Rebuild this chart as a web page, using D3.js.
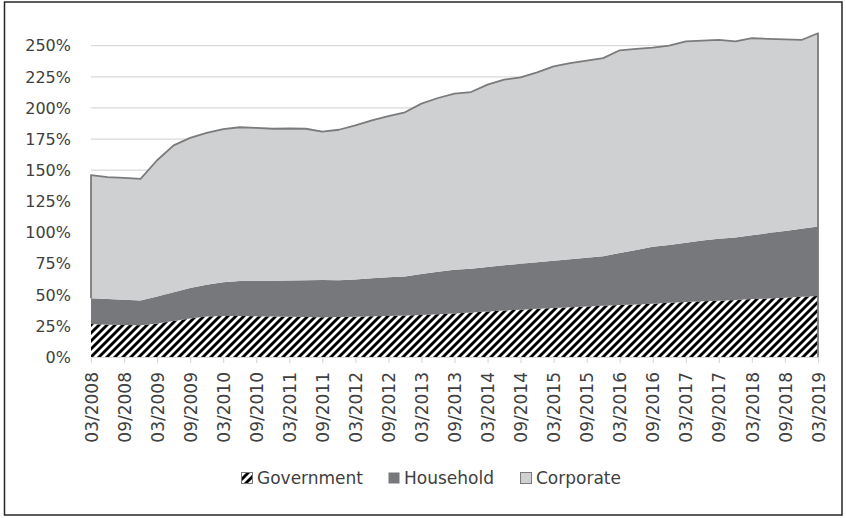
<!DOCTYPE html>
<html>
<head>
<meta charset="utf-8">
<script src="https://cdn.jsdelivr.net/npm/d3@7"></script>
<style>
  body { margin: 0; background: #fff; }
  text { font-family: "DejaVu Sans", sans-serif; fill: #404040; }
</style>
</head>
<body>
<script>

// quarterly debt as % of GDP
var categories = [
  "03/2008", "06/2008", "09/2008", "12/2008",
  "03/2009", "06/2009", "09/2009", "12/2009",
  "03/2010", "06/2010", "09/2010", "12/2010",
  "03/2011", "06/2011", "09/2011", "12/2011",
  "03/2012", "06/2012", "09/2012", "12/2012",
  "03/2013", "06/2013", "09/2013", "12/2013",
  "03/2014", "06/2014", "09/2014", "12/2014",
  "03/2015", "06/2015", "09/2015", "12/2015",
  "03/2016", "06/2016", "09/2016", "12/2016",
  "03/2017", "06/2017", "09/2017", "12/2017",
  "03/2018", "06/2018", "09/2018", "12/2018",
  "03/2019"
];

var government = [26.5, 26.0, 25.7, 25.5, 27.0, 29.0, 31.0, 32.5, 33.0, 33.0,
                  32.7, 32.5, 32.3, 32.1, 32.0, 32.2, 32.4, 32.7, 33.0, 33.4,
                  33.8, 34.4, 35.0, 35.8, 36.5, 37.3, 38.0, 38.8, 39.4, 40.0,
                  40.6, 41.1, 41.7, 42.2, 42.8, 43.5, 44.2, 44.7, 45.2, 45.8,
                  46.5, 47.0, 47.6, 48.3, 49.0];

var household = [20.7, 20.5, 20.3, 19.8, 21.5, 23.0, 24.5, 25.5, 27.0, 28.0,
                 28.5, 28.8, 29.2, 29.6, 29.8, 29.5, 29.9, 30.6, 31.0, 31.2,
                 32.9, 34.1, 35.0, 35.0, 35.8, 36.4, 36.8, 37.2, 37.9, 38.6,
                 39.1, 39.9, 41.8, 43.8, 45.7, 46.5, 47.6, 48.8, 49.8, 50.2,
                 51.3, 52.5, 53.6, 54.7, 55.8];

var corporate = [98.8, 98.0, 97.8, 97.7, 109.5, 118.0, 120.5, 122.0, 123.0, 123.5,
                 122.8, 122.0, 122.0, 121.6, 119.2, 120.8, 123.7, 126.7, 129.5, 131.9,
                 136.8, 139.5, 141.5, 142.0, 146.4, 149.0, 149.8, 152.6, 156.1, 157.4,
                 158.3, 159.0, 162.8, 161.5, 160.0, 160.0, 161.7, 160.5, 159.6, 157.5,
                 158.2, 156.0, 153.8, 151.6, 155.2];

var seriesNames = ["Government", "Household", "Corporate"];

var xTickLabels = ["03/2008", "09/2008", "03/2009", "09/2009", "03/2010", "09/2010",
                   "03/2011", "09/2011", "03/2012", "09/2012", "03/2013", "09/2013",
                   "03/2014", "09/2014", "03/2015", "09/2015", "03/2016", "09/2016",
                   "03/2017", "09/2017", "03/2018", "09/2018", "03/2019"];

var yTicks = [0, 25, 50, 75, 100, 125, 150, 175, 200, 225, 250];


var width = 846,
    height = 518;

var rows = categories.map(function(c, i) {
  return { cat: c, Government: government[i], Household: household[i], Corporate: corporate[i] };
});

var stacked = d3.stack().keys(seriesNames)(rows);

var xScale = d3.scalePoint()
    .domain(categories)
    .range([91, 818]);

var yScale = d3.scaleLinear()
    .domain([0, 250])
    .range([357, 45.7]);

var svg = d3.select("body").append("svg")
    .attr("width", width)
    .attr("height", height);

// hatch for government
var defs = svg.append("defs");
var pat = defs.append("pattern")
    .attr("id", "hatch")
    .attr("patternUnits", "userSpaceOnUse")
    .attr("width", 8)
    .attr("height", 8);
pat.append("rect").attr("width", 8).attr("height", 8).attr("fill", "#fff");
pat.append("path")
    .attr("d", "M-2,2 l4,-4 M0,8 l8,-8 M6,10 l4,-4")
    .attr("stroke", "#000")
    .attr("stroke-width", 2.9);

// outer frame
svg.append("rect")
    .attr("x", 4.5)
    .attr("y", 2)
    .attr("width", 837.5)
    .attr("height", 513)
    .attr("fill", "none")
    .attr("stroke", "#262626")
    .attr("stroke-width", 1.5);

// gridlines
svg.append("g")
  .selectAll("line")
  .data(yTicks.slice(1))
  .enter()
  .append("line")
    .attr("x1", 91)
    .attr("x2", 818)
    .attr("y1", function(d) { return yScale(d); })
    .attr("y2", function(d) { return yScale(d); })
    .attr("stroke", "#d9d9d9")
    .attr("stroke-width", 1.2);

var fills = { Government: "url(#hatch)", Household: "#77787b", Corporate: "#cfd0d2" };

var area = d3.area()
    .x(function(d) { return xScale(d.data.cat); })
    .y0(function(d) { return yScale(d[0]); })
    .y1(function(d) { return yScale(d[1]); });

svg.append("g")
  .selectAll("path")
  .data(stacked)
  .enter()
  .append("path")
    .attr("d", area)
    .attr("fill", function(d) { return fills[d.key]; });

// corporate outline: top edge plus the two ends
var corp = stacked[2];
var last = corp.length - 1;
var outline = [[xScale(corp[0].data.cat), yScale(corp[0][0])]]
  .concat(corp.map(function(d) { return [xScale(d.data.cat), yScale(d[1])]; }))
  .concat([[xScale(corp[last].data.cat), yScale(0)]]);

svg.append("path")
    .attr("d", d3.line()(outline))
    .attr("fill", "none")
    .attr("stroke", "#7b7b7b")
    .attr("stroke-width", 1.8)
    .attr("stroke-linejoin", "round");

// x axis
var xAxis = svg.append("g")
    .attr("transform", "translate(0," + yScale(0) + ")")
    .call(d3.axisBottom(xScale).tickValues(xTickLabels).tickSize(6).tickSizeOuter(0));

xAxis.select(".domain").attr("stroke", "#d9d9d9").attr("stroke-width", 1.2);
xAxis.selectAll(".tick line").attr("stroke", "#d9d9d9").attr("stroke-width", 1.2);
xAxis.selectAll(".tick text")
    .attr("font-size", 17)
    .attr("font-family", "DejaVu Sans")
    .attr("fill", "#404040")
    .attr("text-anchor", "end")
    .attr("transform", "rotate(-90)")
    .attr("x", -15)
    .attr("y", 0)
    .attr("dy", "0.36em");

// y labels
svg.append("g")
  .selectAll("text")
  .data(yTicks)
  .enter()
  .append("text")
    .attr("x", 71)
    .attr("y", function(d) { return yScale(d); })
    .attr("dy", "0.36em")
    .attr("text-anchor", "end")
    .attr("font-size", 16)
    .text(function(d) { return d + "%"; });

// legend
var legendX = [241, 388, 520];
var legend = svg.append("g")
  .selectAll("g")
  .data(seriesNames)
  .enter()
  .append("g")
    .attr("transform", function(d, i) { return "translate(" + legendX[i] + ",472)"; });

legend.append("rect")
    .attr("x", 0.5)
    .attr("y", 0.5)
    .attr("width", 11)
    .attr("height", 11)
    .attr("fill", function(d) { return fills[d]; })
    .attr("stroke", function(d) { return d === "Household" ? "none" : "#7b7b7b"; })
    .attr("stroke-width", 1);

legend.append("text")
    .attr("x", 16)
    .attr("y", 6)
    .attr("dy", "0.36em")
    .attr("font-size", 17)
    .text(function(d) { return d; });

</script>
</body>
</html>
